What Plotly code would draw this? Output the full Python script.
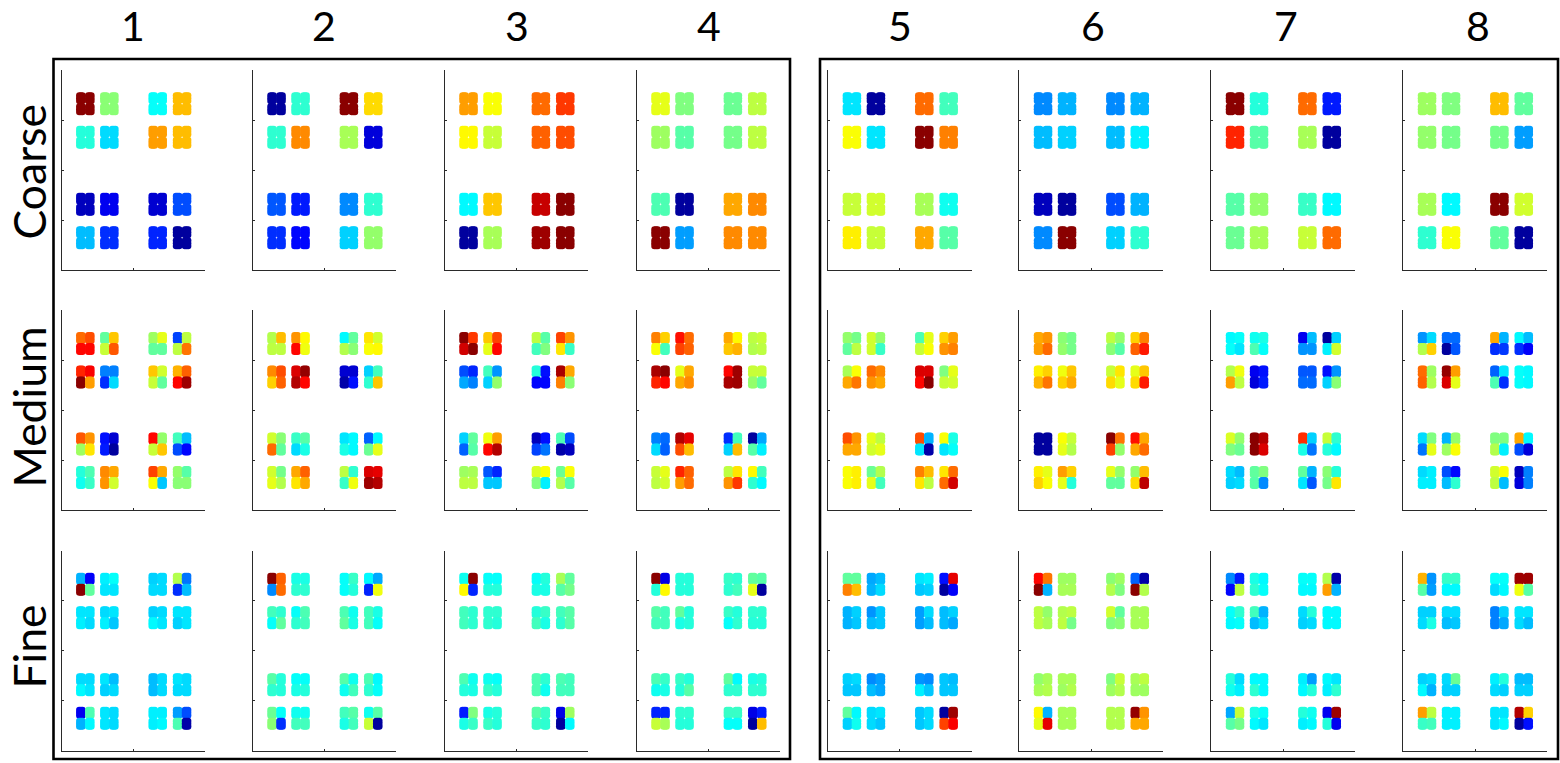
import plotly.graph_objects as go

WIDTH, HEIGHT = 1560, 763
column_labels = ["1", "2", "3", "4", "5", "6", "7", "8"]
row_labels = ["Coarse", "Medium", "Fine"]

# Colour positions on the jet scale (0-100).
coarse_1 = [99,51,38,69, 41,34,72,69, 6,11,8,20, 31,17,16,3]
coarse_2 = [3,42,99,66, 42,74,54,9, 21,15,26,42, 17,13,33,52]
coarse_3 = [72,62,77,82, 63,57,78,80, 37,68,93,99, 3,54,97,99]
coarse_4 = [60,50,48,56, 53,46,49,56, 45,3,71,74, 99,28,74,74]
coarse_5 = [35,3,77,44, 62,35,99,75, 57,58,54,39, 64,57,71,46]
coarse_6 = [26,30,26,30, 31,33,31,36, 6,3,20,30, 26,99,33,42]
coarse_7 = [99,41,77,15, 84,46,54,3, 46,52,43,37, 48,54,57,77]
coarse_8 = [53,50,69,47, 52,49,49,28, 54,37,99,58, 42,62,47,3]

medium_1 = [77,80,87,87, 47,68,57,79, 53,60,47,47, 19,56,56,76,
            84,88,99,72, 25,25,17,34, 68,58,57,47, 70,78,87,97,
            79,73,53,65, 14,8,15,3, 87,52,57,68, 44,31,20,13,
            41,45,39,43, 74,71,73,58, 81,71,62,32, 52,46,51,51]
medium_2 = [55,69,56,56, 73,63,87,61, 37,47,55,51, 65,58,62,63,
            74,80,67,78, 91,98,95,87, 8,8,4,14, 33,44,42,68,
            58,51,77,47, 43,46,34,40, 35,37,40,37, 22,37,48,60,
            58,49,60,55, 71,78,65,71, 56,42,43,61, 91,90,97,95]
medium_3 = [99,82,92,99, 68,81,60,87, 56,46,44,50, 81,73,65,43,
            20,16,29,25, 44,27,33,52, 41,14,13,13, 96,71,75,51,
            33,47,22,46, 61,72,87,95, 6,14,19,24, 45,20,4,6,
            53,54,56,56, 21,16,32,32, 59,62,50,36, 48,62,55,46]
medium_4 = [75,67,62,44, 86,77,81,78, 71,63,68,70, 56,57,55,56,
            96,99,84,87, 60,71,71,74, 87,97,96,97, 57,57,52,47,
            25,23,34,22, 95,90,80,69, 17,44,33,69, 3,29,46,36,
            57,60,56,58, 84,78,72,77, 56,65,73,82, 63,44,42,37]
medium_5 = [52,49,47,56, 58,52,58,43, 45,60,57,62, 67,72,73,75,
            54,62,71,76, 77,74,73,71, 91,91,87,99, 50,60,57,58,
            80,73,71,71, 60,56,58,60, 80,30,35,4, 62,40,35,38,
            62,64,62,64, 48,55,60,44, 75,69,65,56, 65,77,77,92]
medium_6 = [71,73,72,77, 51,49,52,49, 56,52,51,46, 67,75,78,85,
            64,67,70,76, 61,68,67,71, 57,65,66,60, 60,68,66,85,
            3,3,3,3, 62,57,60,55, 99,76,81,52, 86,71,71,77,
            64,60,67,62, 72,67,60,41, 60,52,47,47, 52,69,66,94]
medium_7 = [37,38,38,35, 39,40,45,38, 11,31,27,27, 3,33,36,58,
            55,61,72,56, 11,14,9,15, 21,21,23,23, 14,27,33,51,
            59,52,50,48, 99,95,99,91, 83,33,40,24, 57,42,41,37,
            34,31,33,34, 47,50,46,26, 47,30,35,21, 51,41,49,65]
medium_8 = [27,34,55,67, 23,23,3,21, 71,30,17,18, 37,31,17,12,
            77,53,78,55, 98,72,91,60, 22,35,45,17, 38,37,38,37,
            34,50,24,60, 30,52,53,62, 50,50,55,36, 71,37,20,9,
            34,36,36,36, 20,13,31,42, 58,62,56,31, 6,25,9,25]

fine_1 = [30,12,99,47, 36,38,35,35, 33,34,34,34, 55,24,17,31,
          35,35,36,34, 34,35,36,32, 33,34,37,35, 35,35,33,35,
          34,34,37,35, 35,31,33,34, 31,34,31,34, 35,34,34,34,
          11,45,30,37, 35,34,35,34, 36,36,36,37, 28,20,45,4]
fine_2 = [99,78,26,77, 40,40,42,42, 38,43,38,41, 37,29,16,61,
          44,42,38,47, 38,45,42,44, 45,39,47,40, 44,40,44,38,
          46,41,42,41, 38,38,40,41, 46,39,39,44, 45,37,42,38,
          48,38,51,17, 39,39,44,44, 44,46,40,44, 39,46,57,3]
fine_3 = [39,99,63,16, 38,38,41,41, 38,41,40,40, 54,47,46,49,
          44,42,44,42, 42,42,42,41, 41,43,44,40, 44,46,42,46,
          45,39,41,40, 39,38,43,41, 45,42,45,39, 45,44,44,44,
          15,50,40,43, 40,41,43,41, 46,43,43,42, 10,53,3,37]
fine_4 = [99,10,41,63, 41,41,41,41, 43,42,42,44, 47,46,60,3,
          46,44,44,44, 47,41,40,41, 43,41,38,42, 42,42,41,41,
          45,43,39,40, 43,41,41,46, 47,37,42,42, 40,41,42,42,
          16,16,57,54, 42,42,41,41, 43,43,38,38, 10,15,3,69]
fine_5 = [47,47,75,69, 29,31,30,34, 35,36,32,33, 14,90,3,12,
          30,33,30,32, 27,32,31,32, 28,34,28,31, 31,33,31,29,
          33,34,32,32, 26,28,31,29, 27,26,36,32, 32,31,32,32,
          47,37,33,39, 34,35,34,32, 32,34,32,34, 3,97,81,88]
fine_6 = [87,76,99,30, 53,53,54,54, 51,53,55,50, 22,4,99,55,
          56,52,56,54, 55,56,56,49, 58,47,50,51, 54,54,54,54,
          52,54,54,55, 54,54,53,55, 50,57,53,55, 54,56,53,53,
          63,30,60,90, 54,54,54,54, 55,55,55,55, 98,73,71,71]
fine_7 = [26,15,13,56, 40,37,42,38, 38,38,37,37, 55,4,72,30,
          38,42,37,38, 44,30,31,34, 34,41,33,34, 37,37,37,37,
          41,34,39,36, 37,37,42,37, 36,28,37,41, 37,35,36,42,
          29,57,46,49, 40,38,37,35, 41,39,36,37, 11,97,41,11]
fine_8 = [70,27,46,28, 43,43,37,37, 38,38,34,37, 97,97,61,46,
          33,33,34,40, 34,34,31,32, 25,33,25,29, 35,35,34,31,
          33,34,37,30, 34,48,33,33, 36,41,34,33, 31,31,33,33,
          72,56,43,44, 36,36,36,36, 35,35,35,37, 95,67,3,14]

coarse = [coarse_1, coarse_2, coarse_3, coarse_4, coarse_5, coarse_6, coarse_7, coarse_8]
medium = [medium_1, medium_2, medium_3, medium_4, medium_5, medium_6, medium_7, medium_8]
fine = [fine_1, fine_2, fine_3, fine_4, fine_5, fine_6, fine_7, fine_8]

group_x = [0.66, 1.33, 2.68, 3.36]
group_y = [3.33, 2.66, 1.32, 0.65]
blob_dx, blob_dy = 0.125, 0.11
cloud_dx, cloud_dy = 0.045, 0.055

JET = [[0, "rgb(0,0,128)"], [0.125, "rgb(0,0,255)"], [0.375, "rgb(0,255,255)"],
       [0.625, "rgb(255,255,0)"], [0.875, "rgb(255,0,0)"], [1, "rgb(128,0,0)"]]

panel_left = [61.7, 252.9, 444.9, 636.9, 828.3, 1019.4, 1211.4, 1403.4]
panel_top = [70.3, 310.0, 550.8]
panel_w, panel_h = 143.3, 200.0

fig = go.Figure()
layout = {}


def blob_points(values):
    xs, ys, cs = [], [], []
    i = 0
    per_group = len(values) // 16
    for gy in group_y:
        for gx in group_x:
            quad = values[i:i + per_group]
            i += per_group
            if per_group == 1:
                quad = quad * 4
            for k, v in enumerate(quad):
                bx = gx + (blob_dx if k % 2 else -blob_dx)
                by = gy + (-blob_dy if k >= 2 else blob_dy)
                for ox in (-cloud_dx, 0, cloud_dx):
                    for oy in (-cloud_dy, 0, cloud_dy):
                        xs.append(bx + ox)
                        ys.append(by + oy)
                        cs.append(v)
    return xs, ys, cs


n = 0
for r, rows in enumerate([coarse, medium, fine]):
    for c, values in enumerate(rows):
        n += 1
        xs, ys, cs = blob_points(values)
        fig.add_trace(go.Scatter(
            x=xs, y=ys, mode="markers", xaxis=f"x{n}", yaxis=f"y{n}",
            hoverinfo="skip", showlegend=False,
            marker=dict(size=6.4, color=cs, cmin=0, cmax=100, colorscale=JET,
                        line=dict(width=0)),
        ))
        axis = dict(showgrid=False, zeroline=False, showline=True, linecolor="#2a2a2a",
                    linewidth=1, ticks="inside", ticklen=2, tickwidth=1, tickcolor="#2a2a2a",
                    showticklabels=False, range=[0, 4], fixedrange=True)
        layout[f"xaxis{n}"] = dict(axis, anchor=f"y{n}", tickvals=[0, 2, 4],
                                   domain=[panel_left[c] / WIDTH, (panel_left[c] + panel_w) / WIDTH])
        layout[f"yaxis{n}"] = dict(axis, anchor=f"x{n}", tickvals=[0, 1, 2, 3, 4],
                                   domain=[1 - (panel_top[r] + panel_h) / HEIGHT, 1 - panel_top[r] / HEIGHT])

column_x = [133, 324, 517, 709, 900, 1093, 1286, 1478]
row_y = [172, 407, 647]
annotations = []
for label, x in zip(column_labels, column_x):
    annotations.append(dict(text=label, x=x / WIDTH, y=1 - 25 / HEIGHT, xref="paper", yref="paper",
                            xanchor="center", yanchor="middle", showarrow=False,
                            font=dict(family="Lato", size=41, color="black")))
for label, y in zip(row_labels, row_y):
    annotations.append(dict(text=label, x=27.5 / WIDTH, y=1 - y / HEIGHT, xref="paper", yref="paper",
                            xanchor="center", yanchor="middle", showarrow=False, textangle=-90,
                            font=dict(family="Lato", size=44.5, color="black")))

shapes = []
for x0, x1 in [(53.5, 790), (820, 1558)]:
    shapes.append(dict(type="rect", xref="paper", yref="paper", x0=x0 / WIDTH, x1=x1 / WIDTH,
                       y0=1 - 759 / HEIGHT, y1=1 - 59 / HEIGHT,
                       line=dict(color="black", width=2.6), fillcolor="rgba(0,0,0,0)"))

fig.update_layout(width=WIDTH, height=HEIGHT, margin=dict(l=0, r=0, t=0, b=0, autoexpand=False),
                  paper_bgcolor="white", plot_bgcolor="white", annotations=annotations,
                  shapes=shapes, **layout)
fig.write_html("out.html", config={"displayModeBar": False},
               post_script="document.body.style.margin='0';document.body.style.overflow='hidden';")
